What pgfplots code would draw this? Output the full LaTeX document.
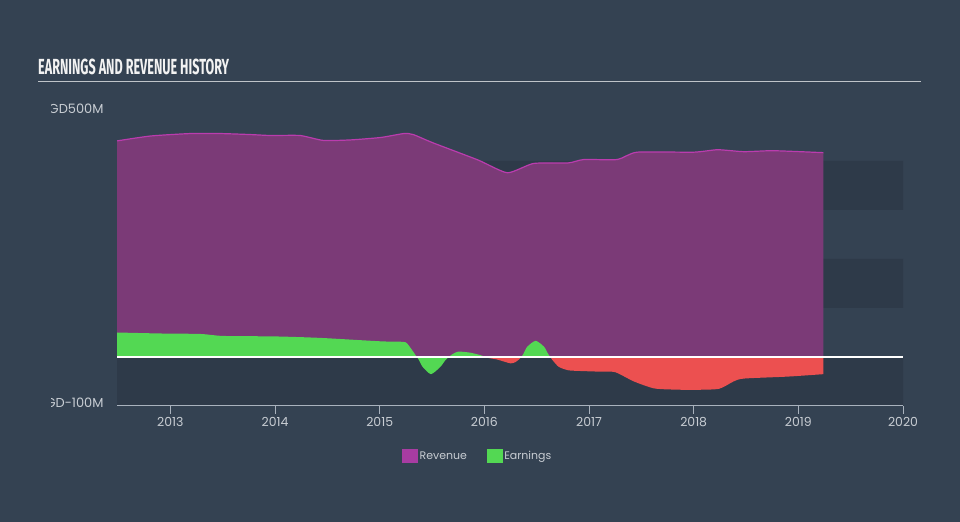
\documentclass[border=0pt]{standalone}
\usepackage{fontspec}
\setmainfont{Poppins}
\newfontfamily\titlefont{Fira Sans}
\usepackage{xcolor}
\usepackage{graphicx}
\usepackage{pgfplots}
\pgfplotsset{compat=1.18}
\usepgfplotslibrary{fillbetween}
\definecolor{bg}{HTML}{344252}
\definecolor{band}{HTML}{2E3A49}
\definecolor{revfill}{HTML}{7B3A77}
\definecolor{revline}{HTML}{BA3CAE}
\definecolor{revsq}{HTML}{A83CA2}
\definecolor{earng}{HTML}{53D853}
\definecolor{earnr}{HTML}{EC5050}
\definecolor{axisc}{HTML}{A9B2BD}
\definecolor{tickc}{HTML}{C8CDD3}
\definecolor{titlec}{HTML}{F2F2F2}
\definecolor{ulc}{HTML}{BFC4C9}
\pagecolor{bg}
\begin{document}
\begin{tikzpicture}
\path (0bp,0bp) rectangle (960bp,522bp);
\begin{axis}[
  at={(117bp,116bp)}, anchor=south west,
  scale only axis, width=786bp, height=294bp,
  xmin=2012.49, xmax=2020, ymin=-100, ymax=500,
  set layers,
  axis x line*=bottom, axis y line*=left,
  y axis line style={draw=none},
  x axis line style={draw=axisc, line width=1bp},
  xtick={2013,2014,2015,2016,2017,2018,2019,2020},
  xticklabels={2013,2014,2015,2016,2017,2018,2019,2020},
  ytick={-100,500},
  yticklabels={SGD-100M,SGD500M},
  ytick style={draw=none},
  xtick style={draw=axisc, line width=1bp},
  tick align=outside, major tick length=8bp,
  tick label style={font=\fontsize{12.5}{14}\selectfont, text=tickc},
  yticklabel style={anchor=east, xshift=-2bp, yshift=3bp, font=\fontsize{13}{15}\selectfont},
  legend style={at={(0.459,-0.17)}, anchor=center, draw=none, fill=none,
    text=tickc, font=\fontsize{11}{13}\selectfont, legend columns=2,
    /tikz/every even column/.append style={column sep=18bp}},
  legend cell align=left,
]
\addlegendimage{legend image code/.code={\fill[revsq] (-3bp,-6.5bp) rectangle (12bp,6.5bp);}}
\addlegendentry{Revenue}
\addlegendimage{legend image code/.code={\fill[earng] (-3bp,-6.5bp) rectangle (12bp,6.5bp);}}
\addlegendentry{Earnings}

% background bands
\addplot[on layer=axis background, fill=band, draw=none, forget plot] coordinates
  {(2012.49,-100) (2020,-100) (2020,0) (2012.49,0) (2012.49,-100)};
\addplot[on layer=axis background, fill=band, draw=none, forget plot] coordinates
  {(2012.49,100) (2020,100) (2020,200) (2012.49,200) (2012.49,100)};
\addplot[on layer=axis background, fill=band, draw=none, forget plot] coordinates
  {(2012.49,300) (2020,300) (2020,400) (2012.49,400) (2012.49,300)};

\addplot[name path=zero, draw=none, forget plot] coordinates {(2012.49,0) (2019.24,0)};
\addplot[name path=rev, draw=none, forget plot, smooth, tension=0.35] coordinates {
(2012.49,441) (2012.81,451) (2013.19,456) (2013.48,456) (2013.76,454) (2013.96,452)
(2014.24,452) (2014.46,442) (2014.72,443) (2015.01,448) (2015.23,456) (2015.32,454)
(2015.51,437) (2015.94,402) (2016.22,376) (2016.47,395) (2016.80,396) (2016.95,403)
(2017.27,403) (2017.46,418) (2018.00,418) (2018.23,423) (2018.48,419) (2018.76,421)
(2019.24,417)};
\addplot[fill=revfill, forget plot] fill between[of=rev and zero];

\addplot[name path=earn, draw=none, forget plot, smooth, tension=0.4] coordinates {
(2012.49,50) (2012.9,48) (2013.29,47) (2013.5,43) (2014.0,42) (2014.43,39)
(2015.01,32) (2015.22,31) (2015.26,28) (2015.31,14) (2015.345,3) (2015.375,-6) (2015.41,-20)
(2015.49,-35) (2015.58,-20) (2015.63,-6) (2015.69,5) (2015.75,11) (2015.86,9) (2015.96,4)
(2016.04,-2) (2016.12,-5) (2016.25,-13) (2016.30,-10) (2016.34,-3) (2016.37,5) (2016.41,21)
(2016.49,33) (2016.57,21) (2016.61,6) (2016.65,-6) (2016.71,-20) (2016.79,-26.5) (2016.85,-28)
(2017.11,-30) (2017.25,-31) (2017.43,-50) (2017.62,-64) (2017.81,-66.5) (2018.00,-67)
(2018.24,-65) (2018.38,-50) (2018.48,-44) (2018.90,-40) (2019.24,-35)};
\addplot[fill=earnr, forget plot] fill between[of=earn and zero, split,
  every odd segment/.style={fill=earng},
  every segment no 0/.style={fill=earng}];

\addplot[revline, line width=1.2bp, smooth, tension=0.35, forget plot] coordinates {
(2012.49,441) (2012.81,451) (2013.19,456) (2013.48,456) (2013.76,454) (2013.96,452)
(2014.24,452) (2014.46,442) (2014.72,443) (2015.01,448) (2015.23,456) (2015.32,454)
(2015.51,437) (2015.94,402) (2016.22,376) (2016.47,395) (2016.80,396) (2016.95,403)
(2017.27,403) (2017.46,418) (2018.00,418) (2018.23,423) (2018.48,419) (2018.76,421)
(2019.24,417)};
\addplot[earng!70!black, line width=0.8bp, forget plot] coordinates {(2012.49,1.8) (2019.24,1.8)};
\addplot[white, line width=1.2bp, forget plot] coordinates {(2012.49,0) (2020,0)};
\end{axis}
% cut the left part of the y labels, as in the reference
\fill[bg] (0bp,90bp) rectangle (51bp,430bp);
\node[anchor=south west, inner sep=0pt, text=titlec] at (38bp,447bp)
  {\resizebox{191bp}{15.5bp}{\titlefont\bfseries EARNINGS AND REVENUE HISTORY}};
\draw[ulc, line width=1.3bp] (38bp,440.3bp) -- (921bp,440.3bp);
\end{tikzpicture}
\end{document}
